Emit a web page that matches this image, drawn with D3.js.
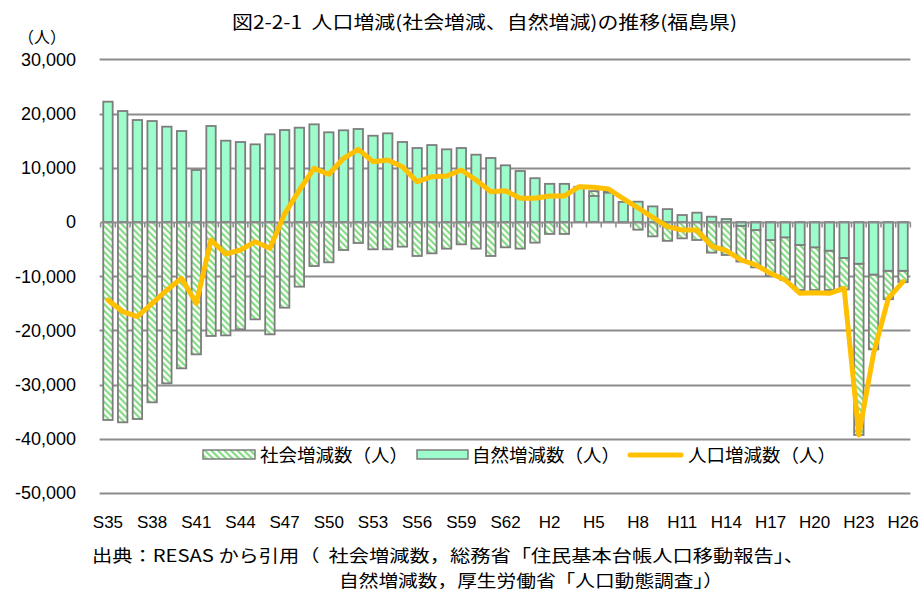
<!DOCTYPE html>
<html>
<head>
<meta charset="utf-8">
<script src="https://cdn.jsdelivr.net/npm/d3@7"></script>
<style>
  html, body { margin: 0; padding: 0; background: #fff; }
  svg { display: block; }
  .cjk { font-family: "Noto Sans CJK JP", "Noto Sans", sans-serif; fill: #000; }
  .num { font-family: "Liberation Sans", Arial, sans-serif; fill: #000; }
</style>
</head>
<body>
<svg id="chart" width="922" height="594"></svg>
<script>
// 年（昭和35年〜平成26年）
const years = [
  "S35","S36","S37","S38","S39","S40","S41","S42","S43","S44",
  "S45","S46","S47","S48","S49","S50","S51","S52","S53","S54",
  "S55","S56","S57","S58","S59","S60","S61","S62","S63",
  "H1","H2","H3","H4","H5","H6","H7","H8","H9","H10",
  "H11","H12","H13","H14","H15","H16","H17","H18","H19","H20",
  "H21","H22","H23","H24","H25","H26"
];

// 社会増減数（人）
const socialChange = [
  -36530,-36960,-36350,-33270,-29770,-27000,-24420,-21030,-20920,-19800,
  -17960,-20730,-15810,-11930,-8120,-7440,-5170,-3870,-5040,-5040,
  -4550,-6270,-5780,-4920,-4120,-4920,-6270,-4670,-4920,
  -3810,-2210,-2210,100,900,300,-100,-1420,-2650,-3480,
  -3020,-3320,-5660,-6090,-6600,-6890,-6640,-7870,-8310,-7880,
  -7260,-5800,-31600,-13800,-5250,-2100
];

// 自然増減数（人）
const naturalChange = [
  22200,20480,18820,18630,17590,16790,9590,17710,15000,14760,
  14330,16180,16970,17400,18020,16550,16920,17160,15920,16360,
  14760,13650,14200,13410,13650,12420,11810,10460,9410,
  8080,7040,7040,6400,4800,5400,3700,3750,2880,2380,
  1290,1720,980,550,-700,-1480,-3320,-2830,-4240,-4670,
  -5290,-6640,-7700,-9700,-9000,-9000
];

// 人口増減数（人）
const totalChange = [
  -14390,-16550,-17470,-15000,-12550,-10390,-15000,-3320,-5900,-5170,
  -3630,-4860,1500,5900,9900,8800,11750,13410,11130,11440,
  10200,7440,8360,8490,9590,7750,5600,5780,4370,
  4370,4800,4800,6510,6400,6090,4300,2600,870,-860,
  -1480,-1480,-4430,-5290,-7010,-7930,-9470,-10700,-13160,-13040,
  -13160,-12240,-39300,-24230,-14080,-11010
];

// 軸目盛り
const yTicks = [30000, 20000, 10000, 0, -10000, -20000, -30000, -40000, -50000];
const xTickLabels = ["S35","S38","S41","S44","S47","S50","S53","S56","S59","S62",
                     "H2","H5","H8","H11","H14","H17","H20","H23","H26"];

const titleText = "図2-2-1\u00a0\u00a0人口増減(社会増減、自然増減)の推移(福島県)";
const unitText = "（人）";
const legendLabels = ["社会増減数（人）", "自然増減数（人）", "人口増減数（人）"];
const sourceLines = [
  "出典：RESAS から引用（\u00a0\u00a0社会増減数，総務省「住民基本台帳人口移動報告」、",
  "自然増減数，厚生労働省「人口動態調査」）"
];

const svg = d3.select("#chart");
const plot = { left: 100.6, right: 910.4, top: 59.4, bottom: 493 };

const x = d3.scaleBand().domain(years).range([plot.left, plot.right]).paddingInner(0.36).paddingOuter(0.18);
const xStep = d3.scaleBand().domain(years).range([plot.left, plot.right]);
const y = d3.scaleLinear().domain([-50000, 30000]).range([plot.bottom, plot.top]);

const gridColor = "#8c8c8c";
const barStroke = "#7d7d7d";
const greenFill = "#9dfccb";
const lineColor = "#ffc000";

// 斜線パターン（社会増減数）
const defs = svg.append("defs");
const pat = defs.append("pattern")
  .attr("id", "hatch")
  .attr("patternUnits", "userSpaceOnUse")
  .attr("width", 4.6).attr("height", 4.6)
  .attr("patternTransform", "rotate(-45)");
pat.append("rect").attr("width", 4.6).attr("height", 4.6).attr("fill", "#fff");
pat.append("line").attr("x1", 1.2).attr("y1", 0).attr("x2", 1.2).attr("y2", 4.6)
  .attr("stroke", "#6fd66f").attr("stroke-width", 1.9);

// 目盛線
svg.append("g").selectAll("line").data(yTicks.filter(d => d !== 0)).join("line")
  .attr("x1", plot.left - 1).attr("x2", plot.right)
  .attr("y1", d => Math.round(y(d)) + 0.5).attr("y2", d => Math.round(y(d)) + 0.5)
  .attr("stroke", gridColor).attr("stroke-width", 1.8);

// 縦軸ラベル
svg.append("g").selectAll("text").data(yTicks).join("text")
  .attr("class", "num")
  .attr("x", 76).attr("y", d => y(d)).attr("dy", "0.36em")
  .attr("text-anchor", "end").attr("font-size", 18)
  .text(d => d3.format(",")(d).replace("−", "-"));

svg.append("text").attr("class", "cjk")
  .attr("x", 18).attr("y", 43).attr("font-size", 16)
  .text(unitText);

// 棒の範囲（自然増減を軸側、社会増減をその先へ積み上げ）
const segs = years.map((yr, i) => {
  const n = naturalChange[i], s = socialChange[i];
  const sBase = (Math.sign(s) === Math.sign(n)) ? n : 0;
  return { yr, n, s, sBase };
});

const bars = svg.append("g");
bars.selectAll("rect.social").data(segs).join("rect")
  .attr("class", "social")
  .attr("x", d => x(d.yr)).attr("width", x.bandwidth())
  .attr("y", d => y(Math.max(d.sBase, d.sBase + d.s)))
  .attr("height", d => Math.abs(y(d.sBase) - y(d.sBase + d.s)))
  .attr("fill", "url(#hatch)").attr("stroke", barStroke).attr("stroke-width", 1.8);

bars.selectAll("rect.natural").data(segs).join("rect")
  .attr("class", "natural")
  .attr("x", d => x(d.yr)).attr("width", x.bandwidth())
  .attr("y", d => y(Math.max(0, d.n)))
  .attr("height", d => Math.abs(y(0) - y(d.n)))
  .attr("fill", greenFill).attr("stroke", barStroke).attr("stroke-width", 1.8);

// 横軸（0の線と区切り目盛）
const zeroY = Math.round(y(0)) + 0.5;
svg.append("line")
  .attr("x1", plot.left).attr("x2", plot.right)
  .attr("y1", zeroY).attr("y2", zeroY)
  .attr("stroke", gridColor).attr("stroke-width", 2);
svg.append("g").selectAll("line").data(years.concat(["__end"])).join("line")
  .attr("x1", (d, i) => plot.left + i * xStep.step())
  .attr("x2", (d, i) => plot.left + i * xStep.step())
  .attr("y1", zeroY).attr("y2", zeroY + 5)
  .attr("stroke", gridColor).attr("stroke-width", 1.5);

// 横軸ラベル
svg.append("g").selectAll("text").data(xTickLabels).join("text")
  .attr("class", "num")
  .attr("x", d => x(d) + x.bandwidth() / 2).attr("y", 528)
  .attr("text-anchor", "middle").attr("font-size", 17)
  .text(d => d);

// 人口増減数の折れ線
const line = d3.line()
  .x((d, i) => x(years[i]) + x.bandwidth() / 2)
  .y(d => y(d));
svg.append("path").datum(totalChange)
  .attr("d", line)
  .attr("fill", "none").attr("stroke", lineColor)
  .attr("stroke-width", 5).attr("stroke-linejoin", "round").attr("stroke-linecap", "round");

// 凡例
const lg = svg.append("g");
lg.append("rect").attr("x", 203).attr("y", 450).attr("width", 52).attr("height", 9)
  .attr("fill", "url(#hatch)").attr("stroke", barStroke).attr("stroke-width", 1.5);
lg.append("rect").attr("x", 417).attr("y", 450).attr("width", 51).attr("height", 9)
  .attr("fill", greenFill).attr("stroke", barStroke).attr("stroke-width", 1.5);
lg.append("line").attr("x1", 630).attr("x2", 681).attr("y1", 455).attr("y2", 455)
  .attr("stroke", lineColor).attr("stroke-width", 5).attr("stroke-linecap", "round");
const legX = [260, 472, 688];
lg.selectAll("text").data(legendLabels).join("text")
  .attr("class", "cjk")
  .attr("x", (d, i) => legX[i]).attr("y", 461.5)
  .attr("font-size", 18)
  .attr("textLength", 148).attr("lengthAdjust", "spacingAndGlyphs")
  .text(d => d);

// タイトル
svg.append("text").attr("class", "cjk")
  .attr("x", 232).attr("y", 29).attr("font-size", 18)
  .attr("textLength", 505).attr("lengthAdjust", "spacingAndGlyphs")
  .text(titleText);

// 出典
svg.append("text").attr("class", "cjk")
  .attr("x", 92).attr("y", 562).attr("font-size", 17)
  .attr("textLength", 712).attr("lengthAdjust", "spacingAndGlyphs")
  .text(sourceLines[0]);
svg.append("text").attr("class", "cjk")
  .attr("x", 339).attr("y", 587).attr("font-size", 17)
  .attr("textLength", 384).attr("lengthAdjust", "spacingAndGlyphs")
  .text(sourceLines[1]);
</script>
</body>
</html>
